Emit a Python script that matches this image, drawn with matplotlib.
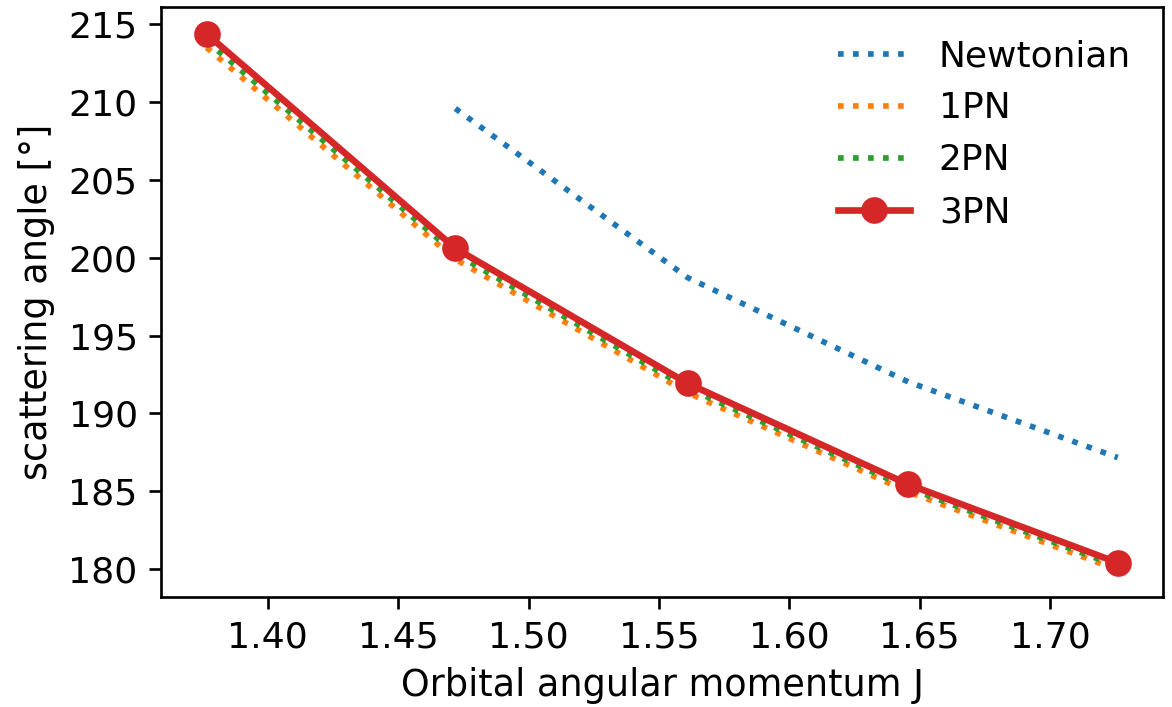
import matplotlib
matplotlib.use("Agg")
import matplotlib.pyplot as plt
import numpy as np

# orbital angular momentum J
J = [1.3765, 1.4719, 1.5610, 1.6456, 1.7260]

# scattering angle in degrees (Newtonian not available at the first J)
newtonian = [np.nan, 209.57, 198.72, 192.03, 187.17]
pn1 = [213.48, 199.90, 191.33, 184.97, 179.96]
pn2 = [213.90, 200.25, 191.63, 185.21, 180.19]
pn3 = [214.36, 200.60, 191.93, 185.45, 180.42]

fig = plt.figure(figsize=(1172 / 240, 707 / 240), dpi=240)
ax = fig.add_axes([0.1374, 0.156, 0.8552, 0.834])

ax.plot(J, newtonian, linestyle=":", lw=1.7, color="C0", label="Newtonian")
ax.plot(J, pn1, linestyle=":", lw=1.7, color="C1", label="1PN")
ax.plot(J, pn2, linestyle=":", lw=1.7, color="C2", label="2PN")
ax.plot(J, pn3, linestyle="-", lw=2, marker="o", markersize=7, color="C3", label="3PN")

ax.set_xlabel("Orbital angular momentum J", fontsize=11)
ax.set_ylabel("scattering angle [°]", fontsize=11)
ax.tick_params(labelsize=10.9)
ax.xaxis.set_major_formatter(matplotlib.ticker.FormatStrFormatter("%.2f"))
ax.legend(loc="upper right", frameon=False, fontsize=10.8)

fig.savefig("out.png", dpi=240)
